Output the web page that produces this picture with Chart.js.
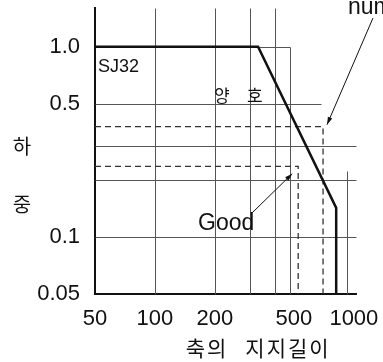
<!DOCTYPE html>
<html>
<head>
<meta charset="utf-8">
<script src="https://cdn.jsdelivr.net/npm/chart.js@4/dist/chart.umd.min.js"></script>
<style>
  body { margin: 0; background: #fff; }
</style>
</head>
<body>
<canvas id="loadChart" width="383" height="362"></canvas>
<script>
// Load limit vs. support length (log-log)
const limitLength = [50, 330, 815, 815];
const limitLoad = [1.0, 1.0, 0.142, 0.05];
const goodLength = [50, 525, 525];
const goodLoad = [0.235, 0.235, 0.05];
const numLength = [50, 700, 700];
const numLoad = [0.38, 0.38, 0.05];

const xTicks = [50, 100, 200, 500, 1000];
const yTicks = [0.05, 0.1, 0.5, 1.0];

// grid segments: [x1, y1, x2, y2]
const gridLines = [
  [100, 0.05, 100, 1.6],
  [200, 0.05, 200, 1.6],
  [300, 0.05, 300, 1.6],
  [400, 0.05, 400, 1.6],
  [480, 0.05, 480, 1.0],
  [920, 0.05, 920, 0.222],
  [50, 1.0, 480, 1.0],
  [50, 0.5, 680, 0.5],
  [50, 0.3, 1025, 0.3],
  [50, 0.2, 1025, 0.2],
  [50, 0.1, 1025, 0.1],
];

const toPoints = (xs, ys) => xs.map((x, i) => ({ x: x, y: ys[i] }));
const FONT = "'Liberation Sans', Arial, sans-serif";
const KFONT = "'Noto Sans CJK KR', sans-serif";

function arrow(ctx, x1, y1, x2, y2) {
  const a = Math.atan2(y2 - y1, x2 - x1);
  ctx.beginPath();
  ctx.moveTo(x1, y1);
  ctx.lineTo(x2, y2);
  ctx.stroke();
  ctx.beginPath();
  ctx.moveTo(x2, y2);
  ctx.lineTo(x2 - 8 * Math.cos(a - 0.3), y2 - 8 * Math.sin(a - 0.3));
  ctx.lineTo(x2 - 8 * Math.cos(a + 0.3), y2 - 8 * Math.sin(a + 0.3));
  ctx.closePath();
  ctx.fill();
}

// grid drawn as partial segments, like the printed figure
const gridPlugin = {
  id: "gridSegments",
  beforeDatasetsDraw(chart) {
    const { ctx, scales: { x, y } } = chart;
    ctx.save();
    ctx.strokeStyle = "#555";
    ctx.lineWidth = 1;
    gridLines.forEach(([x1, y1, x2, y2]) => {
      ctx.beginPath();
      ctx.moveTo(Math.round(x.getPixelForValue(x1)) + 0.5, Math.round(y.getPixelForValue(y1)) + 0.5);
      ctx.lineTo(Math.round(x.getPixelForValue(x2)) + 0.5, Math.round(y.getPixelForValue(y2)) + 0.5);
      ctx.stroke();
    });
    ctx.restore();
  },
  afterDraw(chart) {
    const { ctx, scales: { x, y } } = chart;
    ctx.save();
    ctx.fillStyle = "#111";
    ctx.strokeStyle = "#111";
    ctx.textBaseline = "alphabetic";

    ctx.font = "18px " + FONT;
    ctx.textAlign = "left";
    ctx.fillText("SJ32", 98, 72);

    ctx.font = "17px " + KFONT;
    ctx.fillText("양", 214, 102);
    ctx.fillText("호", 247, 102);

    ctx.font = "23px " + FONT;
    ctx.fillText("Good", 198, 230);
    ctx.fillText("number", 348, 14);

    ctx.lineWidth = 1;
    arrow(ctx, 252, 213, x.getPixelForValue(490), y.getPixelForValue(0.215));
    arrow(ctx, 373, 18, x.getPixelForValue(700) + 4, y.getPixelForValue(0.38) - 2);

    // y axis title, stacked
    ctx.font = "20px " + KFONT;
    ctx.textAlign = "center";
    ctx.fillText("하", 22, 154);
    ctx.fillText("중", 22, 212);

    // x axis title
    ctx.font = "21px " + KFONT;
    ctx.letterSpacing = "2px";
    ctx.fillText("축의", 207, 356);
    ctx.fillText("지지길이", 288, 356);
    ctx.restore();
  },
};

const ctx = document.getElementById("loadChart").getContext("2d");
const loadChart = new Chart(ctx, {
  type: "scatter",
  data: {
    datasets: [
      {
        data: toPoints(limitLength, limitLoad),
        showLine: true,
        borderColor: "#111",
        borderWidth: 2.5,
        pointRadius: 0,
      },
      {
        data: toPoints(goodLength, goodLoad),
        showLine: true,
        borderColor: "#333",
        borderWidth: 1.3,
        borderDash: [6, 4],
        pointRadius: 0,
      },
      {
        data: toPoints(numLength, numLoad),
        showLine: true,
        borderColor: "#333",
        borderWidth: 1.3,
        borderDash: [6, 4],
        pointRadius: 0,
      },
    ],
  },
  options: {
    responsive: false,
    animation: false,
    layout: { padding: { top: 8, right: 27, bottom: 0, left: 0 } },
    plugins: {
      legend: { display: false },
      tooltip: { enabled: false },
    },
    scales: {
      x: {
        type: "logarithmic",
        min: 50,
        max: 1025,
        grid: { display: false },
        border: { display: true, color: "#111", width: 2 },
        afterBuildTicks: (s) => { s.ticks = xTicks.map((v) => ({ value: v })); },
        afterFit: (s) => {
          s.height = 68;
          s.paddingLeft = 0;
          s.paddingRight = 0;
        },
        ticks: {
          color: "#111",
          padding: 4,
          maxRotation: 0,
          font: { family: FONT, size: 22 },
          callback: (v) => String(v),
        },
      },
      y: {
        type: "logarithmic",
        min: 0.05,
        max: 1.6,
        grid: { display: false },
        border: { display: true, color: "#111", width: 2 },
        afterBuildTicks: (s) => { s.ticks = yTicks.map((v) => ({ value: v })); },
        afterFit: (s) => {
          s.width = 95;
          s.paddingTop = 0;
          s.paddingBottom = 0;
        },
        ticks: {
          color: "#111",
          padding: 7,
          font: { family: FONT, size: 22 },
          callback: (v) => (v === 0.05 ? "0.05" : v.toFixed(1)),
        },
      },
    },
  },
  plugins: [gridPlugin],
});
</script>
</body>
</html>
